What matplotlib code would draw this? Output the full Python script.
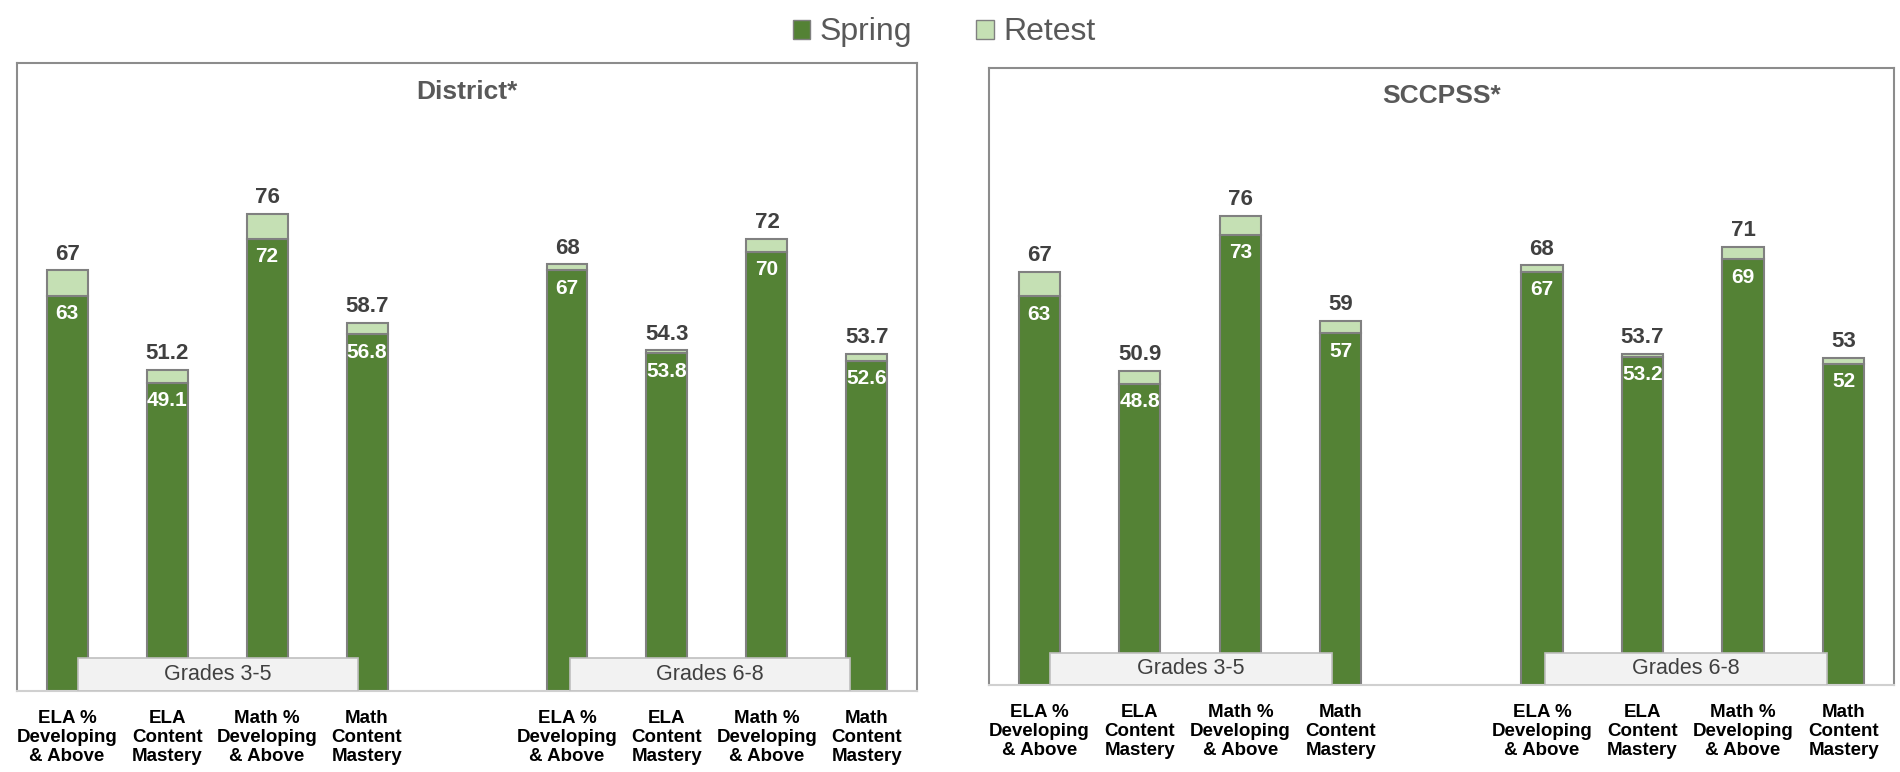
import matplotlib
matplotlib.use('Agg')
import matplotlib.pyplot as plt
from matplotlib.patches import Rectangle, Patch

plt.rcParams['font.family'] = ['Liberation Sans Narrow', 'Liberation Sans', 'DejaVu Sans']

# 数据
categories = ['ELA %\nDeveloping\n& Above', 'ELA\nContent\nMastery',
              'Math %\nDeveloping\n& Above', 'Math\nContent\nMastery'] * 2
groups = ['Grades 3-5', 'Grades 6-8']

district_spring = [63, 49.1, 72, 56.8, 67, 53.8, 70, 52.6]
district_total = [67, 51.2, 76, 58.7, 68, 54.3, 72, 53.7]
sccpss_spring = [63, 48.8, 73, 57, 67, 53.2, 69, 52]
sccpss_total = [67, 50.9, 76, 59, 68, 53.7, 71, 53]

spring_color = '#548235'
retest_color = '#c5e0b4'
edge_color = '#808080'
text_grey = '#404040'

# 柱子位置：两组之间空一格
positions = [0, 1, 2, 3, 5, 6, 7, 8]
group_starts = [0.11, 5.03]
box_width = 2.8


def draw_panel(ax, title, spring, total):
    retest = [t - s for s, t in zip(spring, total)]
    ax.bar(positions, spring, width=0.41, color=spring_color,
           edgecolor=edge_color, linewidth=1.5, zorder=2)
    ax.bar(positions, retest, width=0.41, bottom=spring, color=retest_color,
           edgecolor=edge_color, linewidth=1.5, zorder=2)

    # 数值标签
    for x, s, t in zip(positions, spring, total):
        ax.annotate(f'{t:g}', (x, t), xytext=(0, 4), textcoords='offset points',
                    ha='center', va='bottom', fontsize=16, fontweight='bold',
                    color=text_grey)
        ax.annotate(f'{s:g}', (x, s), xytext=(0, -6), textcoords='offset points',
                    ha='center', va='top', fontsize=15, fontweight='bold',
                    color='white', zorder=3)

    # 年级标签框
    for g0, name in zip(group_starts, groups):
        ax.add_patch(Rectangle((g0, 0), box_width, 5.2, facecolor='#f2f2f2',
                               edgecolor='#bfbfbf', linewidth=1.2, zorder=4))
        ax.text(g0 + box_width / 2, 2.6, name, ha='center', va='center',
                fontsize=15.5, color=text_grey, zorder=5)

    ax.set_xlim(-0.5, 8.5)
    ax.set_ylim(0, 100)
    ax.set_xticks(positions)
    ax.set_xticklabels(categories, fontsize=13.5, fontweight='bold',
                       linespacing=1.12)
    ax.tick_params(axis='x', length=0, pad=14)
    ax.set_yticks([])
    for side in ['left', 'top', 'right']:
        ax.spines[side].set_color('#8c8c8c')
        ax.spines[side].set_linewidth(1.5)
    ax.spines['bottom'].set_color('#d0d0d0')
    ax.spines['bottom'].set_linewidth(1.5)
    ax.text(0.5, 0.955, title, transform=ax.transAxes, ha='center', va='center',
            fontsize=19, fontweight='bold', color='#595959')


fig = plt.figure(figsize=(19, 7.72), dpi=100)
ax1 = fig.add_axes([0.009, 0.105, 0.4736, 0.813])
ax2 = fig.add_axes([0.5205, 0.1127, 0.4763, 0.7993])

draw_panel(ax1, 'District*', district_spring, district_total)
draw_panel(ax2, 'SCCPSS*', sccpss_spring, sccpss_total)

# 图例
handles = [Patch(facecolor=spring_color, edgecolor=edge_color, label='Spring'),
           Patch(facecolor=retest_color, edgecolor=edge_color, label='Retest')]
fig.legend(handles=handles, loc='center', bbox_to_anchor=(0.497, 0.958), ncol=2,
           frameon=False, fontsize=23, handlelength=0.55, handleheight=0.55,
           handletextpad=0.3, columnspacing=2.0, labelcolor='#595959')

plt.savefig('out.png', dpi=100)
